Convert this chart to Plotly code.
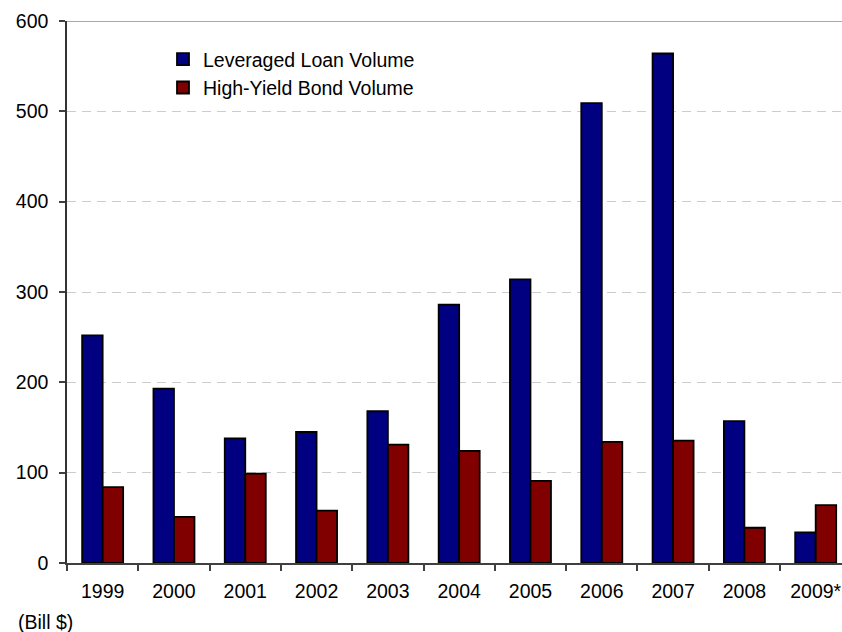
import plotly.graph_objects as go

# Annual issuance, billions of dollars
years = ["1999", "2000", "2001", "2002", "2003", "2004", "2005", "2006", "2007", "2008", "2009*"]
leveraged_loans = [252, 193, 138, 145, 168, 286, 314, 509, 564, 157, 34]
high_yield_bonds = [84, 51, 99, 58, 131, 124, 91, 134, 135.5, 39, 64]
y_ticks = [0, 100, 200, 300, 400, 500, 600]

FONT = "Liberation Sans, Arial, sans-serif"
FS = 19.5

W, H = 842, 632
ML, MT, MB, MR = 67, 21, 69, 0

fig = go.Figure()
fig.add_trace(go.Bar(
    x=years, y=leveraged_loans, name="Leveraged Loan Volume",
    marker=dict(color="#000080", line=dict(color="#000000", width=1.8)),
))
fig.add_trace(go.Bar(
    x=years, y=high_yield_bonds, name="High-Yield Bond Volume",
    marker=dict(color="#800000", line=dict(color="#000000", width=1.8)),
))

# frame line along the top of the plotting area
fig.add_shape(type="line", xref="paper", yref="y", x0=0, x1=1, y0=600, y1=600,
              line=dict(color="#8c8c8c", width=1.5), layer="below")

fig.add_annotation(text="(Bill $)", xref="paper", yref="paper",
                   x=(16 - ML) / (W - ML - MR), y=-(621.7 - (H - MB)) / (H - MT - MB),
                   xanchor="left", yanchor="middle", showarrow=False,
                   font=dict(family=FONT, size=FS, color="#000000"))

fig.update_layout(
    width=W, height=H,
    margin=dict(l=ML, r=MR, t=MT, b=MB, pad=0),
    paper_bgcolor="white", plot_bgcolor="white",
    barmode="group", bargap=0.425, bargroupgap=0,
    font=dict(family=FONT, size=FS, color="#000000"),
    showlegend=True,
    legend=dict(x=(163 - ML) / (W - ML - MR), y=0.965, xanchor="left", yanchor="top",
                bgcolor="rgba(0,0,0,0)", borderwidth=0,
                font=dict(family=FONT, size=FS, color="#000000"),
                tracegroupgap=0),
    xaxis=dict(
        type="category", range=[-0.5, 10.369],
        showline=True, linecolor="#404040", linewidth=1.5,
        ticks="outside", ticklen=6, tickwidth=1.5, tickcolor="#404040",
        tickson="boundaries", showgrid=False, ticklabelstandoff=10,
        tickfont=dict(family=FONT, size=FS, color="#000000"),
    ),
    yaxis=dict(
        range=[0, 600], tickvals=y_ticks,
        showline=True, linecolor="#333333", linewidth=1.5,
        ticks="outside", ticklen=6, tickwidth=1.5, tickcolor="#404040",
        showgrid=True, gridcolor="#cccccc", gridwidth=1, griddash="9px,6px",
        zeroline=False, ticklabelstandoff=7,
        tickfont=dict(family=FONT, size=FS, color="#000000"),
    ),
)

fig.write_html("out.html")
